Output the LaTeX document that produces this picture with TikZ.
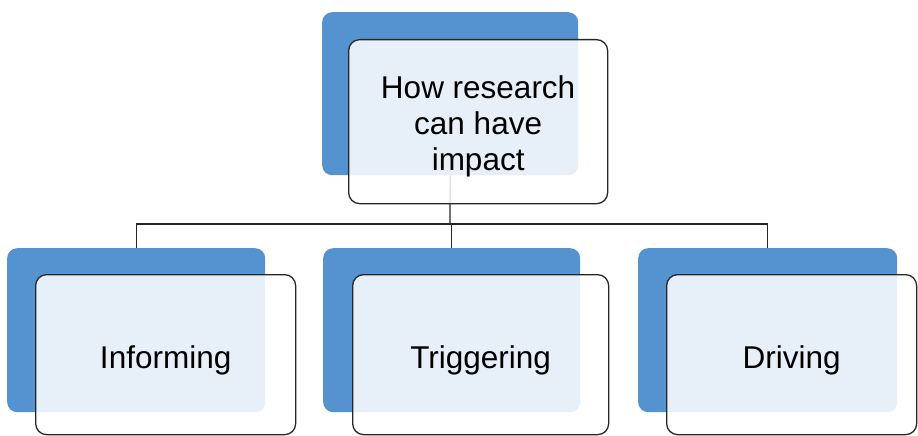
\documentclass[tikz,border=0pt]{standalone}
\usepackage{fontspec}
\setmainfont{Liberation Sans}
\definecolor{boxblue}{HTML}{5593D0}
\begin{document}
\begin{tikzpicture}[x=1pt,y=-1pt,
  backbox/.style={rectangle,rounded corners=10pt,fill=boxblue,draw=none,inner sep=0pt,anchor=north west},
  frontbox/.style={rectangle,rounded corners=11pt,draw=black!85,line width=1.3pt,fill=white,fill opacity=0.86,inner sep=0pt,anchor=north west},
  boxtext/.style={align=center,inner sep=0pt,font=\fontsize{31.5}{36}\selectfont},
  link/.style={draw=black!85,line width=1.3pt}]
\useasboundingbox (0,0) rectangle (918,436);
% back boxes
\node[backbox,minimum width=256pt,minimum height=163pt] (tb) at (322,12) {};
\node[backbox,minimum width=258pt,minimum height=164pt] (lb) at (7,248) {};
\node[backbox,minimum width=257pt,minimum height=164pt] (mb) at (323,248) {};
\node[backbox,minimum width=259pt,minimum height=164pt] (rb) at (638,248) {};
% connectors
\coordinate (hub) at (450,224);
\draw[link] (tb.south) -- (hub);
\draw[link] (lb.north) |- (hub) -| (rb.north);
\draw[link] (hub) -- (mb.north |- hub) -- (mb.north);
% front boxes
\node[frontbox,minimum width=259pt,minimum height=164pt] (tf) at (348,39) {};
\node[frontbox,minimum width=260pt,minimum height=160pt] (lf) at (35,274) {};
\node[frontbox,minimum width=256pt,minimum height=160pt] (mf) at (352,274) {};
\node[frontbox,minimum width=250pt,minimum height=160pt] (rf) at (666,274) {};
% texts
\node[boxtext] (tt) at ([yshift=-5pt]tf.center) {How research\\can have\\impact};
\node[boxtext] (lt) at ([yshift=-6pt]lf.center) {Informing};
\node[boxtext] (mt) at ([yshift=-6pt]mf.center) {Triggering};
\node[boxtext] (rt) at ([yshift=-6pt]rf.center) {Driving};
\end{tikzpicture}
\end{document}
